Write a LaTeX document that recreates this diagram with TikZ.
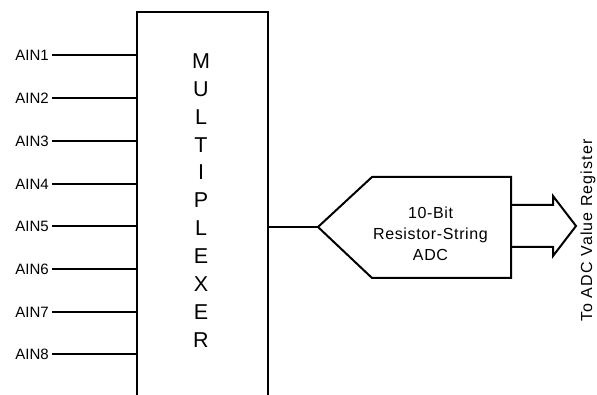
\documentclass[tikz,border=0pt]{standalone}
\usepackage{fontspec}
\setmainfont{Liberation Sans}
\newfontfamily\spacedfont[LetterSpace=4]{Liberation Sans}
\newfontfamily\widefont[LetterSpace=7]{Liberation Sans}
\begin{document}
\begin{tikzpicture}[x=1pt,y=-1pt,
  wire/.style={line width=2pt, line join=miter},
  ainlabel/.style={inner sep=0pt, anchor=east, font=\fontsize{15}{18}\selectfont},
  muxtext/.style={inner sep=0pt, align=center, font=\fontsize{21.5}{27.9}\selectfont},
  adctext/.style={inner sep=0pt, align=center, font=\spacedfont\fontsize{16}{21}\selectfont},
  outtext/.style={inner sep=0pt, rotate=90, font=\widefont\fontsize{16}{18}\selectfont}]
\useasboundingbox (0,0) rectangle (597,395);
% multiplexer box (open at bottom)
\coordinate (mbl) at (137,397);
\coordinate (mtl) at (137,12);
\coordinate (mtr) at (268,12);
\coordinate (mbr) at (268,397);
\draw[wire] (mbl) -- (mtl) -- (mtr) -- (mbr);
\node[muxtext] (mux) at (201,200.5) {M\\U\\L\\T\\I\\P\\L\\E\\X\\E\\R};
% inputs
\foreach \i/\y in {1/55,2/98,3/141,4/184,5/226,6/269,7/312,8/354}{
  \node[ainlabel] (a\i) at (49,\y) {AIN\i};
  \coordinate (m\i) at (137,\y);
  \draw[wire] ([xshift=3pt]a\i.east) -- (m\i);
}
% ADC pentagon
\coordinate (mout) at (268,227);
\coordinate (adcin) at (318,227);
\coordinate (adctl) at (372,177);
\coordinate (adctr) at (511,177);
\coordinate (adcbr) at (511,278);
\coordinate (adcbl) at (372,278);
\draw[wire] (adcin) -- (adctl) -- (adctr) -- (adcbr) -- (adcbl) -- cycle;
\draw[wire] (mout) -- (adcin);
\node[adctext] (adc) at (430.5,233.5) {10-Bit\\Resistor-String\\ADC};
% output broad arrow
\coordinate (s1) at (511,205);
\coordinate (h1) at (553,205);
\coordinate (h2) at (553,196);
\coordinate (tip) at (576,226);
\coordinate (h3) at (553,256);
\coordinate (h4) at (553,247);
\coordinate (s2) at (511,247);
\draw[wire] (s1) -- (h1) -- (h2) -- (tip) -- (h3) -- (h4) -- (s2);
\node[outtext] (out) at (588,230.5) {To ADC Value Register};
\end{tikzpicture}
\end{document}
